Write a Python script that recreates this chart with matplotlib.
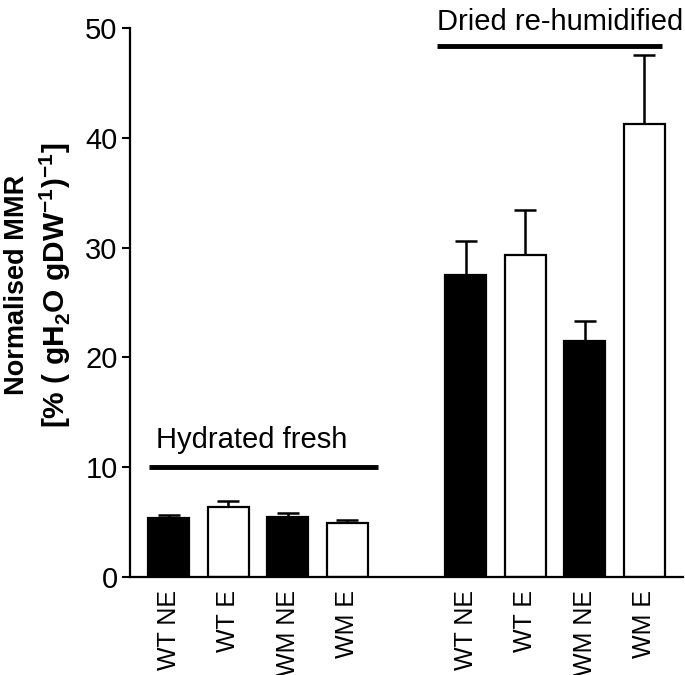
import matplotlib
matplotlib.use("Agg")
import matplotlib.pyplot as plt

plt.rcParams['font.family'] = ['Liberation Sans', 'DejaVu Sans']
plt.rcParams['mathtext.fontset'] = 'custom'
plt.rcParams['mathtext.rm'] = 'Liberation Sans'
plt.rcParams['mathtext.bf'] = 'Liberation Sans:bold'

labels = ["WT NE", "WT E", "WM NE", "WM E", "WT NE", "WT E", "WM NE", "WM E"]
positions = [0, 1, 2, 3, 5, 6, 7, 8]
means = [5.4, 6.4, 5.5, 4.9, 27.5, 29.3, 21.5, 41.3]
errors = [0.3, 0.5, 0.3, 0.3, 3.1, 4.1, 1.8, 6.2]
fills = ["black", "white", "black", "white", "black", "white", "black", "white"]

groups = ["Hydrated fresh", "Dried re-humidified"]
group_line_y = [10, 48.4]
group_span = [(-0.34, 3.52), (4.51, 8.29)]
group_text_pos = [(1.40, 11.75), (6.58, 49.8)]

fig = plt.figure(figsize=(6.85, 6.75), dpi=100)
ax = fig.add_axes([0.19, 0.145, 0.807, 0.8135])

ax.bar(positions, means, width=0.69, color=fills, edgecolor="black",
       linewidth=1.6, zorder=2)
ax.errorbar(positions, means, yerr=[[0] * len(errors), errors], fmt="none",
            ecolor="black", elinewidth=1.8, capsize=8, capthick=1.8, zorder=1)

for g, ly, (x0, x1), (tx, ty) in zip(groups, group_line_y, group_span, group_text_pos):
    ax.plot([x0, x1], [ly, ly], color="black", lw=3.5, clip_on=False,
            solid_capstyle="butt")
    ax.text(tx, ty, g, ha="center", va="baseline", fontsize=21, clip_on=False)

ax.set_xlim(-0.65, 8.65)
ax.set_ylim(0, 50)
ax.set_yticks([0, 10, 20, 30, 40, 50])
ax.set_xticks(positions)
ax.set_xticklabels(labels, rotation=90, fontsize=18)
ax.tick_params(axis="x", length=0, pad=9)
ax.tick_params(axis="y", length=6, width=1.5, labelsize=21, pad=3)
for s in ["top", "right"]:
    ax.spines[s].set_visible(False)
for s in ["left", "bottom"]:
    ax.spines[s].set_linewidth(1.6)

fig.text(0.025, 0.578, "Normalised MMR", rotation=90, ha="center",
         va="center", fontsize=19.5, fontweight="bold")
fig.text(0.080, 0.578, r"[% ( gH$_\mathbf{2}$O gDW$^{\mathbf{-1}}$)$^{\mathbf{-1}}$]",
         rotation=90, ha="center", va="center", fontsize=21.5, fontweight="bold")

fig.savefig("out.png", dpi=100)
plt.close(fig)
